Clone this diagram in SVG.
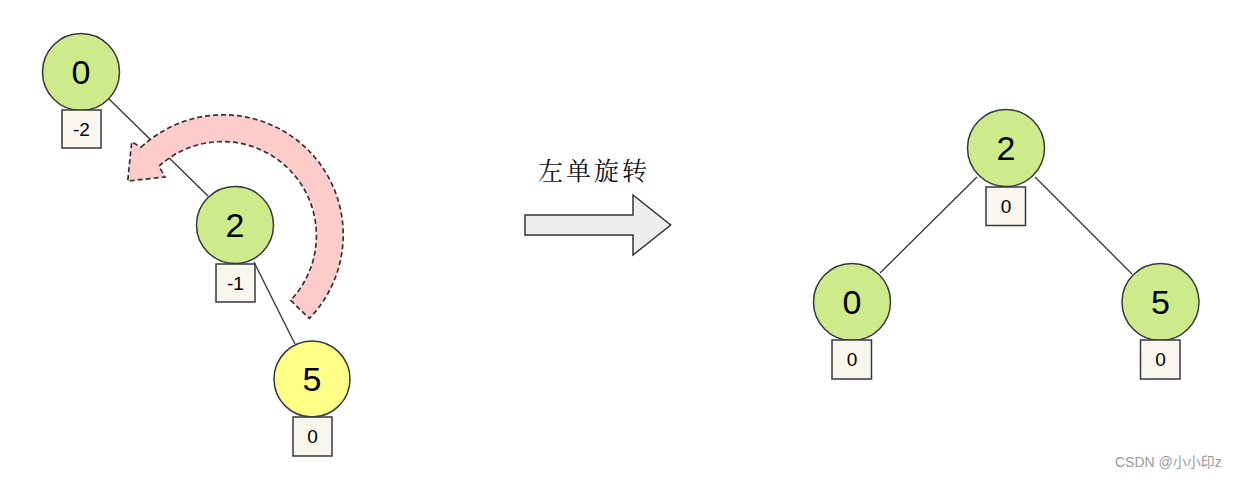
<svg xmlns="http://www.w3.org/2000/svg" width="1245" height="480" viewBox="0 0 1245 480">
<style>
.g{fill:#cdeb8b;stroke:#36393d;stroke-width:1.5}
.y{fill:#ffff88;stroke:#36393d;stroke-width:1.5}
.b{fill:#f9f7ed;stroke:#36393d;stroke-width:1.5}
.n{font-family:"Liberation Sans",Arial,sans-serif;font-size:34px;fill:#000;text-anchor:middle}
.s{font-family:"Liberation Sans",Arial,sans-serif;font-size:19px;fill:#000;text-anchor:middle}
.e{stroke:#333;stroke-width:1.3;fill:none}
</style>
<rect width="1245" height="480" fill="#fff"/>
<g id="connectors">
<line class="e" x1="109" y1="99" x2="208" y2="196"/>
<line class="e" x1="254" y1="262" x2="295" y2="344"/>
<line class="e" x1="977" y1="177" x2="880" y2="273"/>
<line class="e" x1="1035" y1="177" x2="1132" y2="274"/>
</g>
<g id="rotate-arrow">
<path d="M141.2,147.2 A120,120 0 0 1 309.3,318.4 L290.6,300.3 A94,94 0 0 0 158.9,166.3 L165,177 L127.7,181 L131.7,142 Z" fill="#ffcccc" stroke="#333" stroke-width="1.7" stroke-dasharray="5 3"/>
</g>
<g id="L0">
<circle class="g" cx="81" cy="72" r="38.5"/>
<text class="n" x="81" y="84">0</text>
<rect class="b" x="62" y="110" width="39" height="38"/>
<text class="s" x="81.5" y="136">-2</text>
</g>
<g id="L2">
<circle class="g" cx="235" cy="225" r="38.5"/>
<text class="n" x="235" y="237">2</text>
<rect class="b" x="216" y="264" width="39" height="38"/>
<text class="s" x="235.5" y="290">-1</text>
</g>
<g id="L5">
<circle class="y" cx="312" cy="379" r="38"/>
<text class="n" x="312" y="391">5</text>
<rect class="b" x="293" y="417" width="39" height="39"/>
<text class="s" x="312.5" y="443">0</text>
</g>
<g id="label">
<text x="594" y="180" font-family="'Noto Serif CJK SC','Noto Sans CJK SC',serif" font-size="25" letter-spacing="3" text-anchor="middle" fill="#111">左单旋转</text>
</g>
<g id="big-arrow">
<path d="M525,215 L633,215 L633,195 L670.7,225 L633,255 L633,235 L525,235 Z" fill="#eeeeee" stroke="#333" stroke-width="1.5"/>
</g>
<g id="R2">
<circle class="g" cx="1006" cy="148" r="38.5"/>
<text class="n" x="1006" y="160">2</text>
<rect class="b" x="986" y="187" width="39.5" height="38.5"/>
<text class="s" x="1006" y="213">0</text>
</g>
<g id="R0">
<circle class="g" cx="852" cy="302" r="38.5"/>
<text class="n" x="852" y="314">0</text>
<rect class="b" x="832" y="340" width="39.5" height="39"/>
<text class="s" x="852" y="366">0</text>
</g>
<g id="R5">
<circle class="g" cx="1160.5" cy="302" r="38.5"/>
<text class="n" x="1160.5" y="314">5</text>
<rect class="b" x="1140.5" y="340" width="39.5" height="39"/>
<text class="s" x="1160.5" y="366">0</text>
</g>
<text x="1115" y="467" font-family="'Liberation Sans','Noto Sans CJK SC',sans-serif" font-size="14" fill="#999">CSDN @小小印z</text>
</svg>
